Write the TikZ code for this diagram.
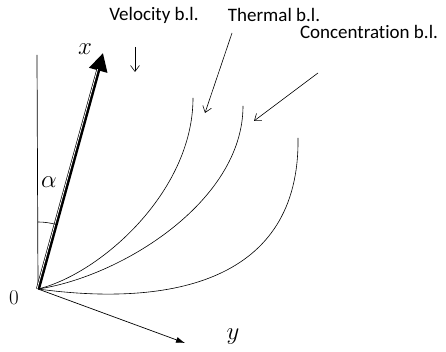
\documentclass[tikz,border=0pt]{standalone}
\usepackage{fontspec}
\newfontfamily\calib[Ligatures=NoCommon]{Carlito}
\usetikzlibrary{arrows.meta,calc}
\begin{document}
\begin{tikzpicture}[x=1pt,y=1pt,
  bl/.style={font=\calib\fontsize{19}{21}\selectfont, inner sep=0pt},
  mlab/.style={font=\fontsize{23}{25}\selectfont, inner sep=0pt},
  pointer/.style={line width=0.6pt, -{Straight Barb[length=6pt,width=9pt]}},
  blcurve/.style={line width=0.6pt}]
\useasboundingbox (0,0) rectangle (446,352);
% axes
\coordinate (O) at (38,63);
\coordinate (V) at (37,297);
\coordinate (X) at (103,299);
\coordinate (Y) at (185,9);
\draw[line width=0.7pt] (O) -- (V);
\draw[line width=4pt, -{Triangle[length=18pt,width=18pt]}] (O) -- (X);
\draw[white, line width=0.8pt] ($(O)+(-0.9,0.3)$) -- ($(O)!0.93!(X)+(-0.9,0.3)$);
\draw[line width=0.7pt, -{Latex[length=9pt,width=6pt]}] (O) -- (Y);
% angle
\draw[line width=0.6pt] ($(O)+(90:67)$) arc[start angle=90, end angle=74.6, radius=67];
% labels
\node[mlab] (xl) at (85,303) {$x$};
\node[mlab] (yl) at (233,15) {$y$};
\node[mlab] (al) at (49,170) {$\alpha$};
\node[font=\fontsize{21}{23}\selectfont, inner sep=0pt] (zl) at (14,54) {0};
% boundary layers
\coordinate (C1) at (193,254);
\coordinate (C2) at (243,246);
\coordinate (C3) at (298,214);
\draw[blcurve] (O) .. controls (100,78) and (193,160) .. (C1);
\draw[blcurve] (O) .. controls (120,75) and (243,150) .. (C2);
\draw[blcurve] (O) .. controls (170,45) and (300,70) .. (C3);
% text labels
\node[bl] (vel) at (154,337) {Velocity b.l.};
\node[bl] (the) at (274,337) {Thermal b.l.};
\node[bl] (con) at (369,320) {Concentration b.l.};
\coordinate (va) at (135,305);
\coordinate (vb) at (135,280);
\coordinate (ta) at (232,319);
\coordinate (tb) at (205,239);
\coordinate (ca) at (318,279);
\coordinate (cb) at (254,231);
\draw[pointer] (va) -- (vb);
\draw[pointer] (ta) -- (tb);
\draw[pointer] (ca) -- (cb);
\end{tikzpicture}
\end{document}
